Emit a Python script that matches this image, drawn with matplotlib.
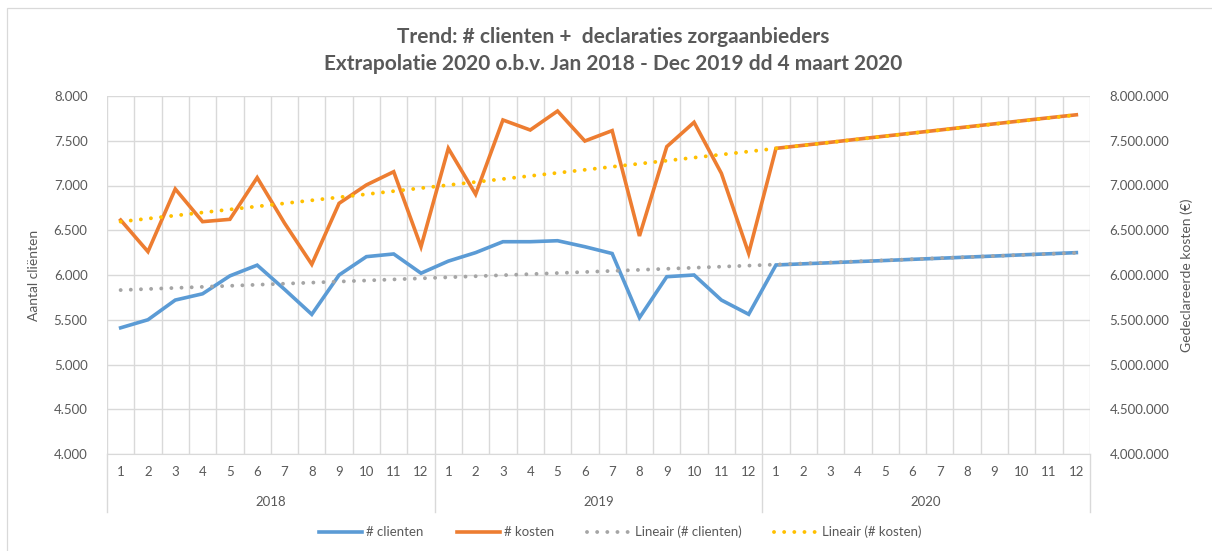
import numpy as np
import matplotlib
matplotlib.use("Agg")
import matplotlib.pyplot as plt
from matplotlib.patches import Rectangle
from matplotlib.lines import Line2D
import matplotlib.transforms as mtransforms
from matplotlib.ticker import FuncFormatter

plt.rcParams['font.family'] = ['Lato', 'DejaVu Sans']

years = ['2018', '2019', '2020']
months = [str(m) for m in range(1, 13)]

# aantal clienten per maand (2020 = extrapolatie)
clienten_2018 = [5410, 5500, 5720, 5790, 5990, 6110, 5840, 5560, 6000, 6205, 6235, 6020]
clienten_2019 = [6155, 6250, 6372, 6372, 6383, 6316, 6240, 5523, 5981, 6000, 5720, 5561]
clienten_2020 = [6112, 6125, 6137, 6150, 6162, 6175, 6187, 6200, 6212, 6225, 6237, 6250]

# gedeclareerde kosten per maand (euro)
kosten_2018 = [6614000, 6261000, 6961000, 6596000, 6622000, 7088000,
               6580000, 6119000, 6801000, 7006000, 7154000, 6316000]
kosten_2019 = [7415000, 6902000, 7732000, 7620000, 7832000, 7497000,
               7613000, 6436000, 7434000, 7706000, 7136000, 6242000]
kosten_2020 = [7415000, 7449000, 7483000, 7518000, 7552000, 7586000,
               7620000, 7655000, 7689000, 7723000, 7757000, 7790000]

clienten = np.array(clienten_2018 + clienten_2019 + clienten_2020)
kosten = np.array(kosten_2018 + kosten_2019 + kosten_2020)
x = np.arange(len(clienten))

# lineaire trendlijnen (zoals Excel)
c_fit = np.polyfit(x, clienten, 1)
k_fit = np.polyfit(x, kosten, 1)

BLUE = '#5B9BD5'
ORANGE = '#ED7D31'
GRAY = '#A5A5A5'
YELLOW = '#FFC000'
TXT = '#595959'
GRID = '#D9D9D9'

W, H = 1212, 551
fig = plt.figure(figsize=(W / 100, H / 100), dpi=100)
ax = fig.add_axes([107 / W, 1 - 454 / H, (1090 - 107) / W, (454 - 96) / H])
ax2 = ax.twinx()

# chart border (only top and left edge are inside the screenshot)
fig.patches.append(Rectangle((7 / W, -0.05), 1.1, 1 - 8 / H + 0.05,
                             transform=fig.transFigure, fill=False,
                             edgecolor=GRID, lw=0.9))

dots = (0, (0.01, 2.6))
ax.plot(x, clienten, color=BLUE, lw=2.6, solid_joinstyle='miter', zorder=3)
ax.plot(x, np.polyval(c_fit, x), color=GRAY, lw=2.8, linestyle=dots,
        dash_capstyle='round', zorder=4)
ax2.plot(x, kosten, color=ORANGE, lw=2.6, solid_joinstyle='miter', zorder=3)
ax2.plot(x, np.polyval(k_fit, x), color=YELLOW, lw=2.8, linestyle=dots,
         dash_capstyle='round', zorder=4)

ax.set_xlim(-0.5, len(x) - 0.5)
ax.set_ylim(4000, 8000)
ax2.set_ylim(4000000, 8000000)
ax.set_yticks(np.arange(4000, 8001, 500))
ax2.set_yticks(np.arange(4000000, 8000001, 500000))

dotfmt = FuncFormatter(lambda v, p: f"{int(v):,}".replace(',', '.'))
ax.yaxis.set_major_formatter(dotfmt)
ax2.yaxis.set_major_formatter(dotfmt)

ax.set_xticks(x)
ax.set_xticklabels(months * len(years))
ax.set_xticks(np.arange(-0.5, len(x), 1), minor=True)

ax.grid(True, which='major', axis='y', color=GRID, lw=1)
ax.grid(True, which='minor', axis='x', color=GRID, lw=1)
ax.set_axisbelow(True)

for a in (ax, ax2):
    for s in a.spines.values():
        s.set_visible(False)
ax.spines['bottom'].set_visible(True)
ax.spines['bottom'].set_color(GRID)

ax.tick_params(axis='x', which='both', length=0, pad=9, labelsize=9.5, labelcolor=TXT)
ax.tick_params(axis='y', length=0, pad=14, labelsize=9.5, labelcolor=TXT)
ax2.tick_params(axis='y', length=0, pad=14, labelsize=9.5, labelcolor=TXT)

# year labels and separators under the axis
trans = mtransforms.blended_transform_factory(ax.transData, ax.transAxes)
for i, yr in enumerate(years):
    ax.text(i * 12 + 5.5, -0.135, yr, transform=trans, ha='center', va='center',
            fontsize=9.5, color=TXT)
for b in range(len(years) + 1):
    ax.plot([b * 12 - 0.5, b * 12 - 0.5], [0, -0.162], transform=trans,
            color=GRID, lw=1, clip_on=False)

ax.set_ylabel('Aantal cliënten', fontsize=10, color=TXT, labelpad=10)
ax2.set_ylabel('Gedeclareerde kosten (€)', fontsize=10, color=TXT, labelpad=8)

fig.text(613 / W, 1 - 37 / H, 'Trend: # clienten +  declaraties zorgaanbieders',
         ha='center', va='center', fontsize=15, fontweight='bold', color=TXT)
fig.text(613 / W, 1 - 64 / H, 'Extrapolatie 2020 o.b.v. Jan 2018 - Dec 2019 dd 4 maart 2020',
         ha='center', va='center', fontsize=15, fontweight='bold', color=TXT)

handles = [
    Line2D([], [], color=BLUE, lw=2.6),
    Line2D([], [], color=ORANGE, lw=2.6),
    Line2D([], [], color=GRAY, lw=2.8, linestyle=dots, dash_capstyle='round'),
    Line2D([], [], color=YELLOW, lw=2.8, linestyle=dots, dash_capstyle='round'),
]
labels = ['# clienten', '# kosten', 'Lineair (# clienten)', 'Lineair (# kosten)']
fig.legend(handles, labels, loc='center', bbox_to_anchor=(620 / W, 1 - 532 / H),
           ncol=4, frameon=False, fontsize=9.5, labelcolor=TXT,
           handlelength=3.3, handletextpad=0.3, columnspacing=2.5)

fig.savefig('out.png', dpi=100)
